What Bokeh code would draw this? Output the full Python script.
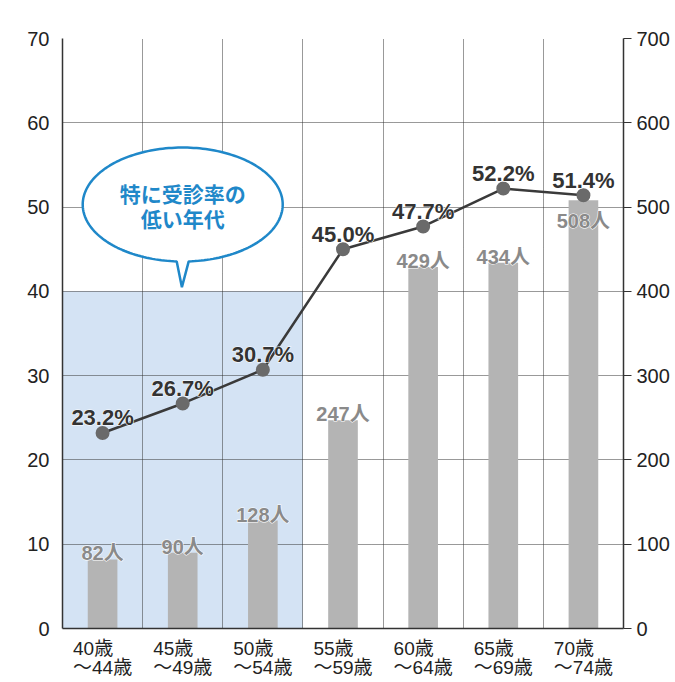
import numpy as np
from bokeh.plotting import figure
from bokeh.models import Range1d, LinearAxis, FixedTicker, ColumnDataSource, Label
from bokeh.core.properties import value
from bokeh.embed import file_html
from bokeh.resources import INLINE

# ---- data ----
age_from = ["40歳", "45歳", "50歳", "55歳", "60歳", "65歳", "70歳"]
age_to = ["～44歳", "～49歳", "～54歳", "～59歳", "～64歳", "～69歳", "～74歳"]
rates = [23.2, 26.7, 30.7, 45.0, 47.7, 52.2, 51.4]
people = [82, 90, 128, 247, 429, 434, 508]
left_ticks = [0, 10, 20, 30, 40, 50, 60, 70]
right_ticks = [0, 100, 200, 300, 400, 500, 600, 700]
highlight_count = 3
highlight_top = 40
callout_lines = ["特に受診率の", "低い年代"]

FONT = "Liberation Sans, Noto Sans CJK JP"
JFONT = "Noto Sans CJK JP"
BLUE = "#1f88c9"

n = len(age_from)
xs = list(range(n))
cat_labels = [a + "　" + "\n" + b for a, b in zip(age_from, age_to)]

p = figure(width=675, height=682, x_range=Range1d(-0.5, n - 0.5),
           y_range=Range1d(left_ticks[0], left_ticks[-1]),
           output_backend="svg", toolbar_location=None,
           min_border_left=62, min_border_right=52, min_border_top=38, min_border_bottom=54)
p.extra_y_ranges = {"people": Range1d(right_ticks[0], right_ticks[-1])}
p.outline_line_color = None
p.background_fill_color = "white"
p.border_fill_color = "white"

# highlight region (under grid)
p.quad(left=[-0.5], right=[highlight_count - 0.5], bottom=[0], top=[highlight_top],
       fill_color="#d4e3f4", line_color=None, level="image")

# grids
p.xgrid.ticker = FixedTicker(ticks=[i + 0.5 for i in range(n - 1)])
p.ygrid.ticker = FixedTicker(ticks=left_ticks[1:])
for g in (p.xgrid, p.ygrid):
    g.grid_line_color = "#333333"
    g.grid_line_dash = "1 1"
    g.grid_line_width = 1

# axes
xa = p.xaxis[0]
xa.ticker = FixedTicker(ticks=xs)
xa.major_label_overrides = {i: cat_labels[i] for i in xs}
xa.major_tick_line_color = None
xa.minor_tick_line_color = None
xa.axis_line_color = "#333333"
xa.axis_line_width = 1.5
xa.major_label_text_font = FONT
xa.major_label_text_font_size = "19px"
xa.major_label_text_color = "#222222"
xa.major_label_standoff = 3
xa.major_label_text_line_height = 0.95

ya = p.yaxis[0]
ya.ticker = FixedTicker(ticks=left_ticks)
ya.major_tick_line_color = None
ya.minor_tick_line_color = None
ya.axis_line_color = "#333333"
ya.axis_line_width = 1.5
ya.major_label_text_font = FONT
ya.major_label_text_font_size = "20px"
ya.major_label_text_color = "#222222"
ya.major_label_standoff = 7

ra = LinearAxis(y_range_name="people", ticker=FixedTicker(ticks=right_ticks))
ra.major_tick_out = 8
ra.major_tick_in = 0
ra.major_tick_line_color = "#333333"
ra.major_tick_line_width = 1.2
ra.minor_tick_line_color = None
ra.axis_line_color = "#333333"
ra.axis_line_width = 1.5
ra.major_label_text_font = FONT
ra.major_label_text_font_size = "20px"
ra.major_label_text_color = "#222222"
ra.major_label_standoff = 5
p.add_layout(ra, "right")

# bars
bar_src = ColumnDataSource(dict(x=xs, people=people,
                                lab=[f"{v}人" for v in people],
                                dy=[-6 if i < n - 1 else 21 for i in xs]))
p.vbar(x="x", top="people", width=0.37, source=bar_src, y_range_name="people",
       fill_color="#b4b4b4", line_color=None)
common_bar = dict(x="x", y="people", text="lab", source=bar_src, y_range_name="people",
                  y_offset="dy", text_align="center", text_baseline="alphabetic",
                  text_font=value(FONT), text_font_size="20px", text_font_style="bold")
p.text(text_color="white", text_outline_color="white", **common_bar)
p.text(text_color="#8a8a8a", **common_bar)

# line
line_src = ColumnDataSource(dict(x=xs, rate=rates, lab=[f"{v:.1f}%" for v in rates]))
p.line(x="x", y="rate", source=line_src, line_color="#3a3a3a", line_width=2.5)
p.scatter(x="x", y="rate", source=line_src, size=14, fill_color="#6a6a6a", line_color=None)
common_rate = dict(x="x", y="rate", text="lab", source=line_src, y_offset=-15,
                   text_align="center", text_baseline="alphabetic",
                   text_font=value(FONT), text_font_size="22px", text_font_style="bold")
p.text(text_color="white", text_outline_color="white", **common_rate)
p.text(text_color="#333333", **common_rate)

# callout bubble
xpx = 561.0 / n            # px per category
ypx = 590.0 / left_ticks[-1]  # px per percent
cx, cy = 1.0, highlight_top + 10.3
a, b = 100 / xpx, 57 / ypx
half = 6 / xpx
d = np.degrees(np.arcsin(half / a))
th = np.radians(np.linspace(-90 + d, 270 - d, 200))
bx = list(cx + a * np.cos(th)) + [cx - 0.01]
by = list(cy + b * np.sin(th)) + [highlight_top + 0.5]
p.patch(bx, by, fill_color="white", line_color=BLUE, line_width=2.5)
for k, t in enumerate(callout_lines):
    p.text(x=[cx], y=[cy + (1.35 - 3.0 * k)], text=[t], text_align="center",
           text_baseline="middle", text_font=value(JFONT), text_font_size="21px",
           text_font_style="bold", text_color=BLUE)

# unit labels
p.add_layout(Label(x=-0.5, y=left_ticks[-1], x_offset=-22, y_offset=21, text="(%)",
                   text_align="center", text_baseline="middle", text_font=FONT,
                   text_font_size="18px", text_color="#222222"))
p.add_layout(Label(x=n - 0.5, y=left_ticks[-1], x_offset=32, y_offset=21, text="(人)",
                   text_align="center", text_baseline="middle", text_font=FONT,
                   text_font_size="18px", text_color="#222222"))

open("out.html", "w").write(file_html(p, INLINE))
